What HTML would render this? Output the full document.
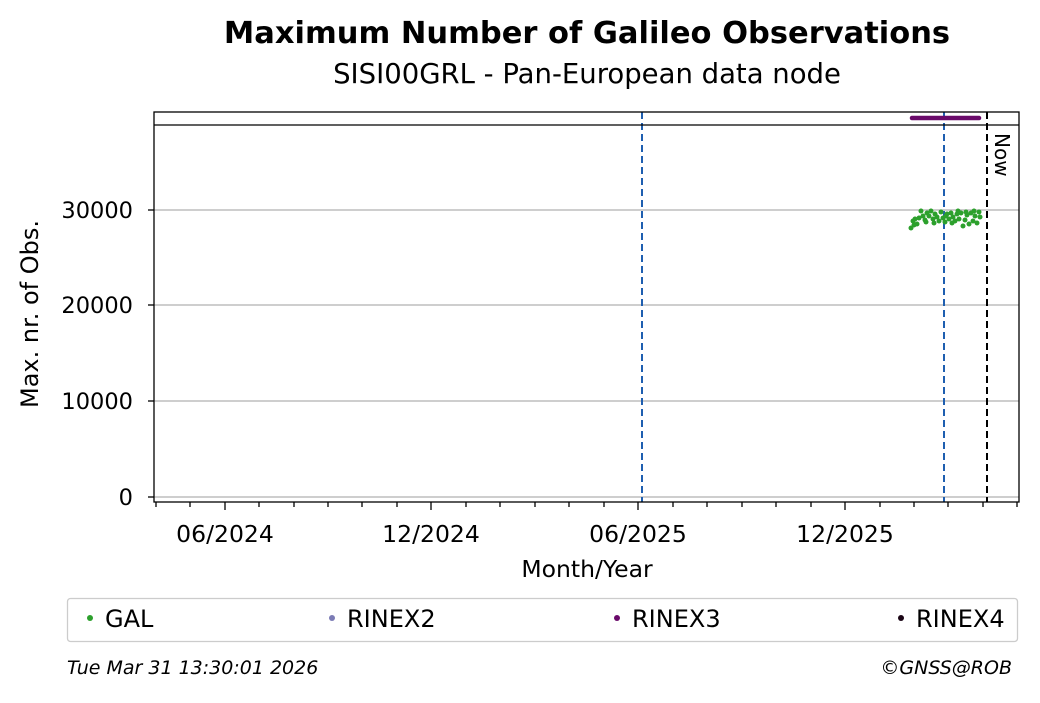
<!DOCTYPE html>
<html><head><style>
body{margin:0;background:#fff;width:1040px;height:699px;overflow:hidden;font-family:"DejaVu Sans","Liberation Sans",sans-serif}
</style></head><body>
<svg width="1040" height="699" xmlns="http://www.w3.org/2000/svg" font-family="DejaVu Sans, Liberation Sans, sans-serif">
<text x="587" y="43" text-anchor="middle" font-size="30.5" font-weight="bold">Maximum Number of Galileo Observations</text>
<text x="587" y="83" text-anchor="middle" font-size="27.5">SISI00GRL - Pan-European data node</text>
<g stroke="#b0b0b0" stroke-width="1.3">
<line x1="154" x2="1019" y1="497" y2="497"/><line x1="154" x2="1019" y1="401" y2="401"/>
<line x1="154" x2="1019" y1="305" y2="305"/><line x1="154" x2="1019" y1="210" y2="210"/>
</g>
<line x1="642" x2="642" y1="112" y2="502" stroke="#1f5fb0" stroke-width="2" stroke-dasharray="7,4"/>
<line x1="944" x2="944" y1="112" y2="502" stroke="#1f5fb0" stroke-width="2" stroke-dasharray="7,4"/>
<line x1="987" x2="987" y1="112" y2="502" stroke="#000" stroke-width="2" stroke-dasharray="7,4"/>
<text x="995" y="133" font-size="20" transform="rotate(90 995 133)">Now</text>
<line x1="154" x2="1019" y1="125" y2="125" stroke="#000" stroke-width="1.3"/>
<line x1="912" x2="979" y1="118" y2="118" stroke="#6a0a6a" stroke-width="4.5" stroke-linecap="round"/>
<g fill="#2ca02c">
<circle cx="911" cy="228" r="2.5"/><circle cx="913" cy="221" r="2.5"/><circle cx="915" cy="219" r="2.5"/><circle cx="917" cy="224" r="2.5"/>
<circle cx="919" cy="218" r="2.5"/><circle cx="921" cy="211" r="2.5"/><circle cx="923" cy="216" r="2.5"/><circle cx="925" cy="220" r="2.5"/>
<circle cx="927" cy="213" r="2.5"/><circle cx="929" cy="216" r="2.5"/><circle cx="931" cy="211" r="2.5"/><circle cx="933" cy="219" r="2.5"/>
<circle cx="935" cy="214" r="2.5"/><circle cx="937" cy="217" r="2.5"/><circle cx="939" cy="221" r="2.5"/><circle cx="941" cy="212" r="2.5"/>
<circle cx="943" cy="218" r="2.5"/><circle cx="945" cy="222" r="2.5"/><circle cx="947" cy="214" r="2.5"/><circle cx="949" cy="219" r="2.5"/>
<circle cx="951" cy="213" r="2.5"/><circle cx="953" cy="217" r="2.5"/><circle cx="955" cy="221" r="2.5"/><circle cx="957" cy="214" r="2.5"/>
<circle cx="959" cy="219" r="2.5"/><circle cx="961" cy="213" r="2.5"/><circle cx="963" cy="226" r="2.5"/><circle cx="965" cy="220" r="2.5"/>
<circle cx="967" cy="215" r="2.5"/><circle cx="969" cy="224" r="2.5"/><circle cx="971" cy="213" r="2.5"/><circle cx="973" cy="221" r="2.5"/>
<circle cx="975" cy="216" r="2.5"/><circle cx="977" cy="223" r="2.5"/><circle cx="979" cy="212" r="2.5"/><circle cx="980" cy="217" r="2.5"/>
<circle cx="914" cy="225" r="2.5"/><circle cx="926" cy="222" r="2.5"/><circle cx="934" cy="223" r="2.5"/><circle cx="946" cy="216" r="2.5"/>
<circle cx="958" cy="211" r="2.5"/><circle cx="966" cy="212" r="2.5"/><circle cx="974" cy="211" r="2.5"/><circle cx="952" cy="223" r="2.5"/>
</g>
<rect x="154" y="112" width="865" height="390" fill="none" stroke="#000" stroke-width="1.3"/>
<g stroke="#000" stroke-width="1.3">
<line x1="148" x2="154" y1="497" y2="497"/><line x1="148" x2="154" y1="401" y2="401"/>
<line x1="148" x2="154" y1="305" y2="305"/><line x1="148" x2="154" y1="210" y2="210"/>
<line x1="225" x2="225" y1="502" y2="510"/><line x1="431" x2="431" y1="502" y2="510"/>
<line x1="638" x2="638" y1="502" y2="510"/><line x1="845" x2="845" y1="502" y2="510"/>
<path d="M156 502v5M190 502v5M259 502v5M294 502v5M328 502v5M362 502v5M397 502v5M466 502v5M500 502v5M535 502v5M569 502v5M604 502v5M673 502v5M707 502v5M742 502v5M776 502v5M811 502v5M880 502v5M914 502v5M948 502v5M983 502v5M1017 502v5"/>
</g>
<g font-size="22.5" text-anchor="end">
<text x="133" y="505">0</text><text x="133" y="409">10000</text><text x="133" y="313">20000</text><text x="133" y="218">30000</text>
</g>
<g font-size="23.5" text-anchor="middle">
<text x="225" y="542">06/2024</text><text x="431" y="542">12/2024</text><text x="638" y="542">06/2025</text><text x="845" y="542">12/2025</text>
<text x="587" y="577">Month/Year</text>
</g>
<text x="38" y="314" font-size="24" text-anchor="middle" transform="rotate(-90 38 314)">Max. nr. of Obs.</text>
<rect x="67.5" y="598.5" width="950" height="43" rx="3" fill="#fff" stroke="#ccc" stroke-width="1.3"/>
<g font-size="24">
<circle cx="90" cy="618" r="3" fill="#2ca02c"/><text x="105" y="627">GAL</text>
<circle cx="332" cy="618" r="3" fill="#7b7bb5"/><text x="347" y="627">RINEX2</text>
<circle cx="617" cy="618" r="3" fill="#6a0a6a"/><text x="632" y="627">RINEX3</text>
<circle cx="901" cy="618" r="3" fill="#1a0515"/><text x="916" y="627">RINEX4</text>
</g>
<text x="67" y="674" font-size="19" font-style="italic">Tue Mar 31 13:30:01 2026</text>
<text x="1012" y="674" font-size="19" font-style="italic" text-anchor="end">©GNSS@ROB</text>
</svg>
</body></html>
